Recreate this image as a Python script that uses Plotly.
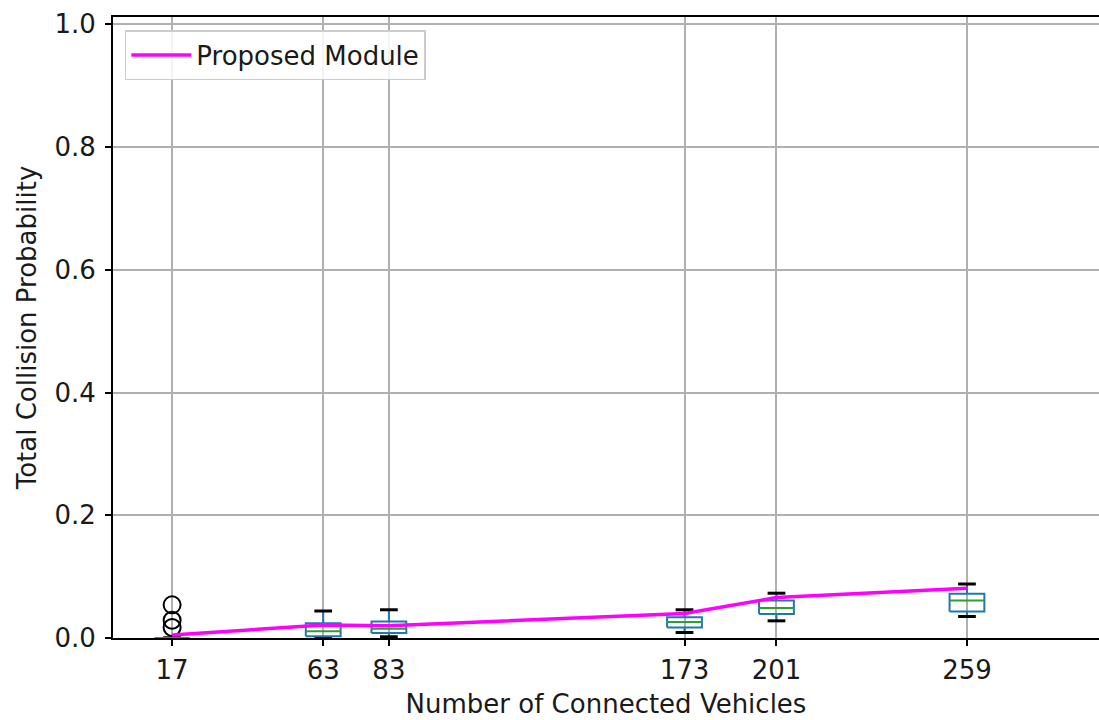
import plotly.graph_objects as go

# Number of connected vehicles (x positions of each group)
vehicles = [17, 63, 83, 173, 201, 259]

# Box statistics per group
lower_whisker = [0.0, 0.0, 0.002, 0.009, 0.028, 0.035]
q1 = [0.0, 0.003, 0.008, 0.017, 0.039, 0.043]
median = [0.0, 0.011, 0.015, 0.026, 0.049, 0.061]
q3 = [0.0, 0.024, 0.027, 0.034, 0.061, 0.072]
upper_whisker = [0.0, 0.044, 0.046, 0.046, 0.073, 0.088]

# Outliers (x group, value)
outlier_x = [17, 17, 17]
outlier_y = [0.054, 0.029, 0.017]

# Proposed module total collision probability
proposed = [0.005, 0.021, 0.020, 0.040, 0.066, 0.081]

x_ticks = vehicles
y_ticks = [0.0, 0.2, 0.4, 0.6, 0.8, 1.0]

box_half = 5.3   # half box width in x units
cap_half = 2.7   # half cap width in x units

box_x, box_y = [], []
med_x, med_y = [], []
wh_x, wh_y = [], []
cap_x, cap_y = [], []
for xv, lw, a, m, b, uw in zip(vehicles, lower_whisker, q1, median, q3, upper_whisker):
    box_x += [xv - box_half, xv + box_half, xv + box_half, xv - box_half, xv - box_half, None]
    box_y += [a, a, b, b, a, None]
    med_x += [xv - box_half, xv + box_half, None]
    med_y += [m, m, None]
    wh_x += [xv, xv, None, xv, xv, None]
    wh_y += [lw, a, None, b, uw, None]
    cap_x += [xv - cap_half, xv + cap_half, None, xv - cap_half, xv + cap_half, None]
    cap_y += [lw, lw, None, uw, uw, None]

fig = go.Figure()

fig.add_trace(go.Scatter(x=wh_x, y=wh_y, mode="lines", line=dict(color="#1f77b4", width=2),
                         showlegend=False, hoverinfo="skip"))
fig.add_trace(go.Scatter(x=cap_x, y=cap_y, mode="lines", line=dict(color="black", width=3),
                         showlegend=False, hoverinfo="skip"))
fig.add_trace(go.Scatter(x=box_x, y=box_y, mode="lines", line=dict(color="#1f77b4", width=2),
                         showlegend=False, hoverinfo="skip"))
fig.add_trace(go.Scatter(x=med_x, y=med_y, mode="lines", line=dict(color="#2ca02c", width=2),
                         showlegend=False, hoverinfo="skip"))
fig.add_trace(go.Scatter(x=outlier_x, y=outlier_y, mode="markers",
                         marker=dict(symbol="circle-open", size=17, color="black", line=dict(width=2)),
                         showlegend=False, hoverinfo="skip"))
fig.add_trace(go.Scatter(x=vehicles, y=proposed, mode="lines", name="Proposed Module",
                         line=dict(color="#ff00ff", width=3.5)))

font = "DejaVu Sans, sans-serif"
fig.update_layout(
    width=1099, height=720,
    margin=dict(l=113, r=0, t=17, b=82),
    plot_bgcolor="white", paper_bgcolor="white",
    font=dict(family=font, size=26, color="#1a1a1a"),
    legend=dict(x=0.012, y=0.979, xanchor="left", yanchor="top",
                bgcolor="rgba(255,255,255,0.85)", bordercolor="#cccccc", borderwidth=1.5,
                font=dict(size=26), itemwidth=60),
)
fig.update_xaxes(
    range=[-1, 299.2], tickvals=x_ticks, ticktext=[str(v) for v in x_ticks],
    showgrid=True, gridcolor="#b0b0b0", gridwidth=1.5,
    showline=True, linecolor="black", linewidth=2, mirror=True,
    ticks="outside", ticklen=6, tickwidth=1.5, tickcolor="black",
    ticklabelstandoff=2,
    zeroline=False, tickfont=dict(size=26),
    title=dict(text="Number of Connected Vehicles", font=dict(size=26), standoff=11),
)
fig.update_yaxes(
    range=[0, 1.012], tickvals=y_ticks, ticktext=[f"{v:.1f}" for v in y_ticks],
    showgrid=True, gridcolor="#b0b0b0", gridwidth=1.5,
    showline=True, linecolor="black", linewidth=2,
    ticks="outside", ticklen=6, tickwidth=1.5, tickcolor="black",
    ticklabelstandoff=4,
    zeroline=False, tickfont=dict(size=26),
    title=dict(text="Total Collision Probability", font=dict(size=26), standoff=10),
)

fig.write_html("out.html")
